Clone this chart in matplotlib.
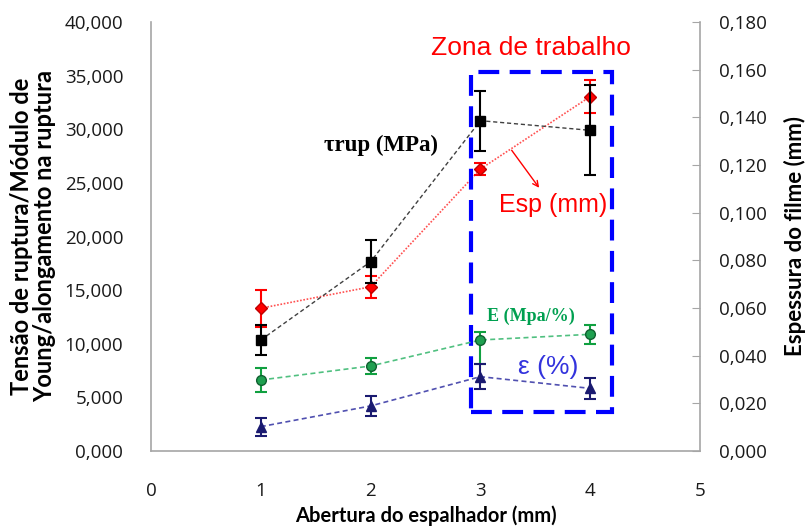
import matplotlib
matplotlib.use("Agg")
import matplotlib.pyplot as plt
from matplotlib.patches import Rectangle
from matplotlib.ticker import FuncFormatter

# Data
x = [1, 2, 3, 4]
tau = [10350, 17650, 30800, 29900]
tau_err = [1400, 2000, 2800, 4200]
E = [6620, 7925, 10350, 10880]
E_err_low = [1150, 700, 2200, 870]
E_err_up = [1150, 700, 700, 870]
eps = [2270, 4200, 6930, 5840]
eps_err = [830, 930, 1150, 1000]
esp = [0.0599, 0.0689, 0.1183, 0.1487]
esp_err = [0.0077, 0.0045, 0.0024, 0.007]

left_ticks = [0, 5000, 10000, 15000, 20000, 25000, 30000, 35000, 40000]
right_ticks = [0, 0.02, 0.04, 0.06, 0.08, 0.10, 0.12, 0.14, 0.16, 0.18]
x_ticks = [0, 1, 2, 3, 4, 5]

TICKFONT = ["Open Sans", "DejaVu Sans"]
LABELFONT = ["Lato", "DejaVu Sans"]
plt.rcParams['font.family'] = TICKFONT

fig = plt.figure(figsize=(8.05, 5.27), dpi=100)
ax = fig.add_axes([151/805, 1 - 451/527, (700-151)/805, (451-22)/527])
ax2 = ax.twinx()

gray = "#A6A6A6"
for a in (ax, ax2):
    for s in a.spines.values():
        s.set_visible(False)
ax.spines['left'].set_visible(True)
ax.spines['bottom'].set_visible(True)
ax2.spines['right'].set_visible(True)
for s in (ax.spines['left'], ax.spines['bottom'], ax2.spines['right']):
    s.set_color(gray)
    s.set_linewidth(1.2)

ax.set_xlim(0, 5)
ax.set_ylim(0, 40000)
ax2.set_ylim(0, 0.18)
ax.set_xticks(x_ticks)
ax.set_yticks(left_ticks)
ax2.set_yticks(right_ticks)
ax.yaxis.set_major_formatter(FuncFormatter(lambda v, p: f"{int(v/1000)},000"))
ax2.yaxis.set_major_formatter(FuncFormatter(lambda v, p: f"{v:.3f}".replace(".", ",")))
ax.tick_params(axis='y', length=0, pad=20, labelsize=13.5, colors="#1a1a1a")
ax.tick_params(axis='x', length=0, pad=22, labelsize=13.5, colors="#1a1a1a")
ax2.tick_params(axis='y', direction='in', length=6, color=gray, pad=14, labelsize=13.5, labelcolor="#1a1a1a")

ax.set_xlabel("Abertura do espalhador (mm)", fontsize=14.5, fontweight='bold', family=LABELFONT)
ax.xaxis.set_label_coords(0.5, (451 - 526) / 429, transform=ax.transAxes)
ax.xaxis.label.set_va('bottom')
ax.set_ylabel("Tensão de ruptura/Módulo de\nYoung/alongamento na ruptura", fontsize=17, fontweight='bold',
              labelpad=6, linespacing=1.0, family=LABELFONT)
ax2.set_ylabel("Espessura do filme (mm)", fontsize=16, fontweight='bold', labelpad=12, family=LABELFONT)

# Series
ax.errorbar(x, tau, yerr=tau_err, fmt='s', color='black', ms=6.5, ecolor='black', elinewidth=1.5, capsize=4, capthick=1.5, zorder=5)
ax.plot(x, tau, color='#404040', ls=(0, (3, 2)), lw=1, zorder=4)

ax.errorbar(x, E, yerr=[E_err_low, E_err_up], fmt='o', mfc='#1FA050', mec='#0F6030', ms=7, ecolor='#10A040', elinewidth=1.5, capsize=4, capthick=1.5, zorder=5)
ax.plot(x, E, color='#50C080', ls=(0, (3, 2)), lw=1.2, zorder=4)

ax.errorbar(x, eps, yerr=eps_err, fmt='^', color='#1A1A70', ms=6.5, ecolor='#1A1A70', elinewidth=1.5, capsize=4, capthick=1.5, zorder=5)
ax.plot(x, eps, color='#5050B0', ls=(0, (3, 2)), lw=1.2, zorder=4)

ax2.errorbar(x, esp, yerr=esp_err, fmt='D', mfc='#FF0000', mec='#C00000', ms=6.5, ecolor='#FF0000', elinewidth=1.5, capsize=4, capthick=1.5, zorder=5)
ax2.plot(x, esp, color='#FF5050', ls=(0, (1, 1)), lw=1.2, zorder=4)

# Zone rectangle
rect = Rectangle((2.91, 3660), 4.20 - 2.91, 35370 - 3660, fill=False, edgecolor='#0000FF', lw=3, ls=(0, (5, 2.5)), zorder=3)
ax.add_patch(rect)

ax.text(3.46, 37580, "Zona de trabalho", color='#FF0000', fontsize=19, ha='center', va='center', family=['Liberation Sans', 'DejaVu Sans'])
ax.text(2.095, 28530, "τrup (MPa)", color='black', fontsize=16.5, fontweight='bold', ha='center', va='center', family=['Liberation Serif', 'DejaVu Serif'])
ax.text(3.66, 22940, "Esp (mm)", color='#FF0000', fontsize=18, ha='center', va='center', family=['Liberation Sans', 'DejaVu Sans'])
ax.annotate("", xy=(3.55, 24330), xytext=(3.27, 28250),
            arrowprops=dict(arrowstyle='->', color='#FF0000', lw=1))
ax.text(3.46, 12590, "E (Mpa/%)", color='#00A050', fontsize=13, fontweight='bold', ha='center', va='center', family=['Liberation Serif', 'DejaVu Serif'])
ax.text(3.62, 7830, "ε (%)", color='#3333DD', fontsize=19, ha='center', va='center', family=['Liberation Sans', 'DejaVu Sans'])

ax.set_zorder(ax2.get_zorder() + 1)
ax.patch.set_visible(False)

fig.savefig("out.png", dpi=100)
